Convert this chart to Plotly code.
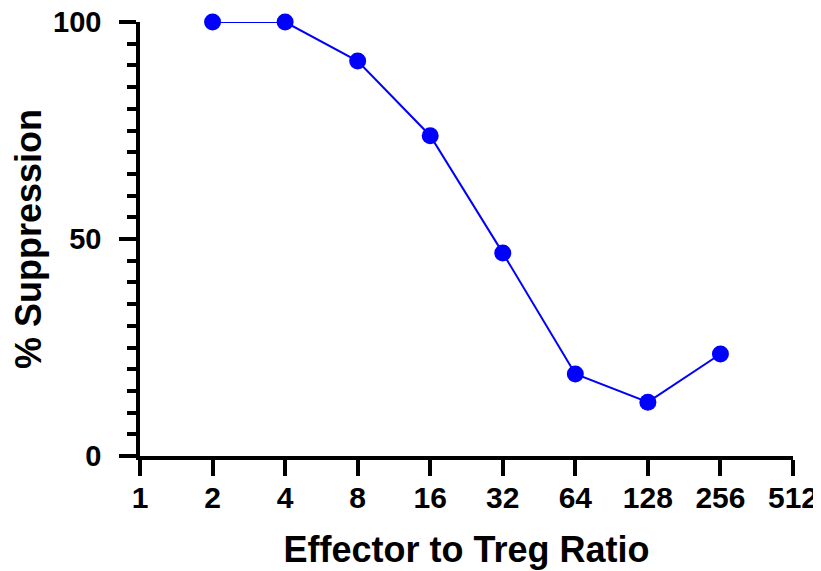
import plotly.graph_objects as go

ratio = [2, 4, 8, 16, 32, 64, 128, 256]
suppression = [100, 100, 91, 73.8, 46.8, 18.9, 12.4, 23.5]
x_ticks = [1, 2, 4, 8, 16, 32, 64, 128, 256, 512]
y_ticks = [0, 50, 100]

font_family = "Liberation Sans, Arial, sans-serif"

fig = go.Figure()
fig.add_trace(go.Scatter(
    x=ratio, y=suppression, mode="lines+markers",
    line=dict(color="#0000FF", width=2),
    marker=dict(color="#0000FF", size=17),
    cliponaxis=False, showlegend=False,
))

fig.update_layout(
    width=813, height=563,
    margin=dict(l=132, r=28, t=14, b=115),
    paper_bgcolor="white", plot_bgcolor="white",
    font=dict(family=font_family, color="black"),
    xaxis=dict(
        type="log", range=[0, 2.70927], tickvals=x_ticks,
        ticktext=[str(v) for v in x_ticks],
        automargin=False, ticklabeloverflow="allow",
        showline=True, linewidth=3.5, linecolor="black",
        ticks="outside", ticklen=16, tickwidth=3.5, tickcolor="black",
        showgrid=False, zeroline=False,
        tickfont=dict(size=30, family=font_family, weight="bold"),
        ticklabelstandoff=-4,
        title=dict(text="Effector to Treg Ratio", standoff=25,
                   font=dict(size=36, family=font_family, weight="bold")),
    ),
    yaxis=dict(
        range=[0, 100], tickvals=y_ticks,
        automargin=False, ticklabeloverflow="allow",
        showline=True, linewidth=3.5, linecolor="black",
        ticks="outside", ticklen=17, tickwidth=3.5, tickcolor="black",
        minor=dict(dtick=5, ticks="outside", ticklen=9, tickwidth=3.5, tickcolor="black", showgrid=False),
        showgrid=False, zeroline=False,
        tickfont=dict(size=29, family=font_family, weight="bold"),
        ticklabelstandoff=12,
        title=dict(text="% Suppression", standoff=16,
                   font=dict(size=36, family=font_family, weight="bold")),
    ),
)

fig.write_html("out.html")
